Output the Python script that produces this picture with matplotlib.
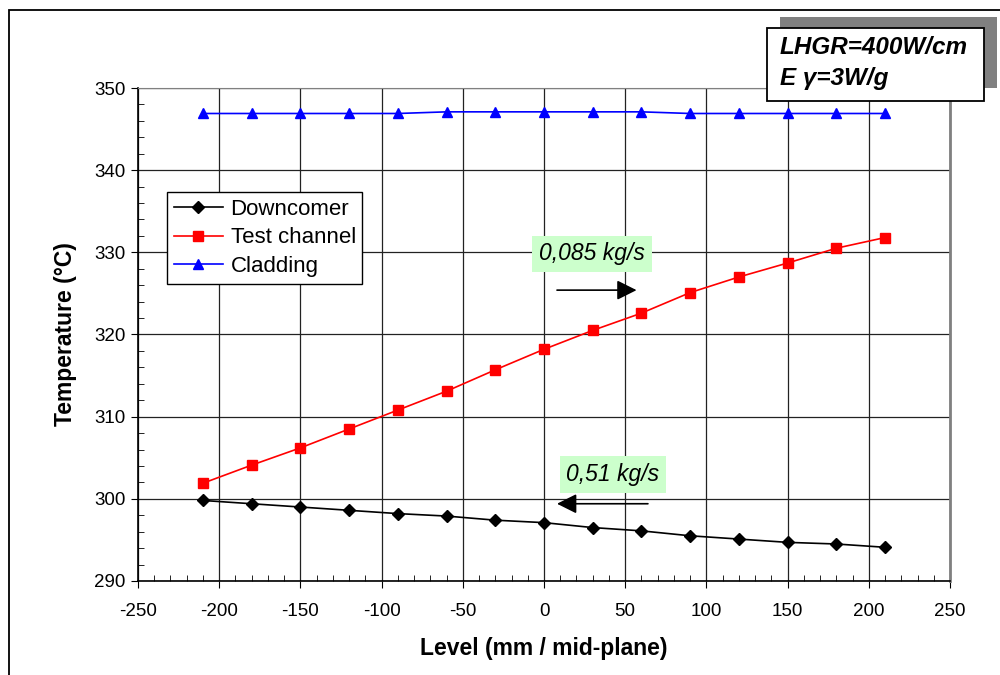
"""
plot.py
Temperature profiles along the test section: downcomer, test channel, cladding.
"""

import numpy as np
import matplotlib
matplotlib.use('Agg')
import matplotlib.pyplot as plt
from matplotlib.patches import Rectangle
from matplotlib.ticker import MultipleLocator

plt.rcParams['font.family'] = ['Liberation Sans', 'DejaVu Sans']
plt.rcParams['axes.unicode_minus'] = False

# data
level = np.array([-210, -180, -150, -120, -90, -60, -30, 0, 30, 60, 90, 120,
    150, 180, 210])
downcomer = np.array([299.8, 299.4, 299.0, 298.6, 298.2, 297.9, 297.4, 297.1,
    296.5, 296.1, 295.5, 295.1, 294.7, 294.5, 294.1])
test_channel = np.array([301.9, 304.1, 306.2, 308.5, 310.8, 313.1, 315.7,
    318.2, 320.5, 322.6, 325.1, 327.0, 328.7, 330.5, 331.8])
cladding = np.array([346.9, 346.9, 346.9, 346.9, 346.9, 347.1, 347.1, 347.1,
    347.1, 347.1, 346.9, 346.9, 346.9, 346.9, 346.9])

series_names = ['Downcomer', 'Test channel', 'Cladding']
flow_labels = ['0,085 kg/s', '0,51 kg/s']
info_lines = ['LHGR=400W/cm', 'E \u03b3=3W/g']

# PLOTTING
fs = 16.5  # primary fontsize
lw = 1.2   # primary linewidth
plt.close('all')

fig = plt.figure(figsize=(10, 6.75), dpi=100)
ax = fig.add_axes([0.138, 0.1393, 0.812, 0.7303])

ax.plot(level, downcomer, '-D', color='black', lw=lw, markersize=6.5,
    label=series_names[0], zorder=4)
ax.plot(level, test_channel, '-s', color='red', lw=lw, markersize=7.5,
    label=series_names[1], zorder=4)
ax.plot(level, cladding, '-^', color='blue', lw=lw, markersize=7.5,
    label=series_names[2], zorder=4)

ax.set_xlim(-250, 250)
ax.set_ylim(290, 350)
ax.xaxis.set_major_locator(MultipleLocator(50))
ax.xaxis.set_minor_locator(MultipleLocator(10))
ax.yaxis.set_major_locator(MultipleLocator(10))
ax.yaxis.set_minor_locator(MultipleLocator(2))
ax.grid(True, which='major', color='#222222', lw=0.9)
ax.tick_params(which='major', direction='out', length=5, labelsize=13.5)
ax.tick_params(axis='x', which='major', pad=11)
ax.tick_params(axis='y', which='major', pad=4)
ax.tick_params(which='minor', direction='in', length=4)

for s in ['left', 'bottom']:
    ax.spines[s].set_linewidth(1.2)
ax.spines['top'].set_color('#808080')
ax.spines['right'].set_color('#808080')
ax.spines['right'].set_linewidth(2)

ax.set_xlabel('Level (mm / mid-plane)', fontsize=fs, weight='bold',
    labelpad=12)
ax.set_ylabel('Temperature (\u00b0C)', fontsize=fs, weight='bold',
    labelpad=12)

leg = ax.legend(loc='upper left', bbox_to_anchor=(0.036, 0.789),
    borderaxespad=0, fontsize=16, fancybox=False, framealpha=1,
    edgecolor='black', handlelength=2.2, handletextpad=0.35,
    labelspacing=0.35, borderpad=0.3)
leg.get_frame().set_linewidth(1)

# flow-rate annotations
green = dict(boxstyle='square,pad=0.3', fc='#ccffcc', ec='none')
ax.text(29.5, 329.8, flow_labels[0], fontsize=fs, style='italic',
    ha='center', va='center', bbox=green, zorder=5)
ax.annotate('', xy=(57, 325.4), xytext=(8, 325.4),
    arrowprops=dict(arrowstyle='-|>', color='black', lw=1.2,
    mutation_scale=30, shrinkA=0, shrinkB=0), zorder=5)
ax.text(42.5, 303.0, flow_labels[1], fontsize=fs, style='italic',
    ha='center', va='center', bbox=green, zorder=5)
ax.annotate('', xy=(8, 299.4), xytext=(64, 299.4),
    arrowprops=dict(arrowstyle='-|>', color='black', lw=1.2,
    mutation_scale=30, shrinkA=0, shrinkB=0), zorder=5)

# outer frame of the chart
fig.patches.append(Rectangle((0.009, -0.1), 1.2, 0.1 + 0.985,
    transform=fig.transFigure, fill=False, ec='black', lw=1.3))

# info box with shadow
fig.patches.append(Rectangle((0.780, 0.8696), 0.217, 0.1052,
    transform=fig.transFigure, fc='#808080', ec='none', zorder=10))
fig.patches.append(Rectangle((0.767, 0.8504), 0.217, 0.1081,
    transform=fig.transFigure, fc='white', ec='black', lw=1.3, zorder=11))
fig.text(0.780, 0.9296, info_lines[0], fontsize=17.5, weight='bold',
    style='italic', va='center', zorder=12)
fig.text(0.780, 0.884, info_lines[1], fontsize=17.5, weight='bold',
    style='italic', va='center', zorder=12)

fig.savefig('out.png', dpi=100)
